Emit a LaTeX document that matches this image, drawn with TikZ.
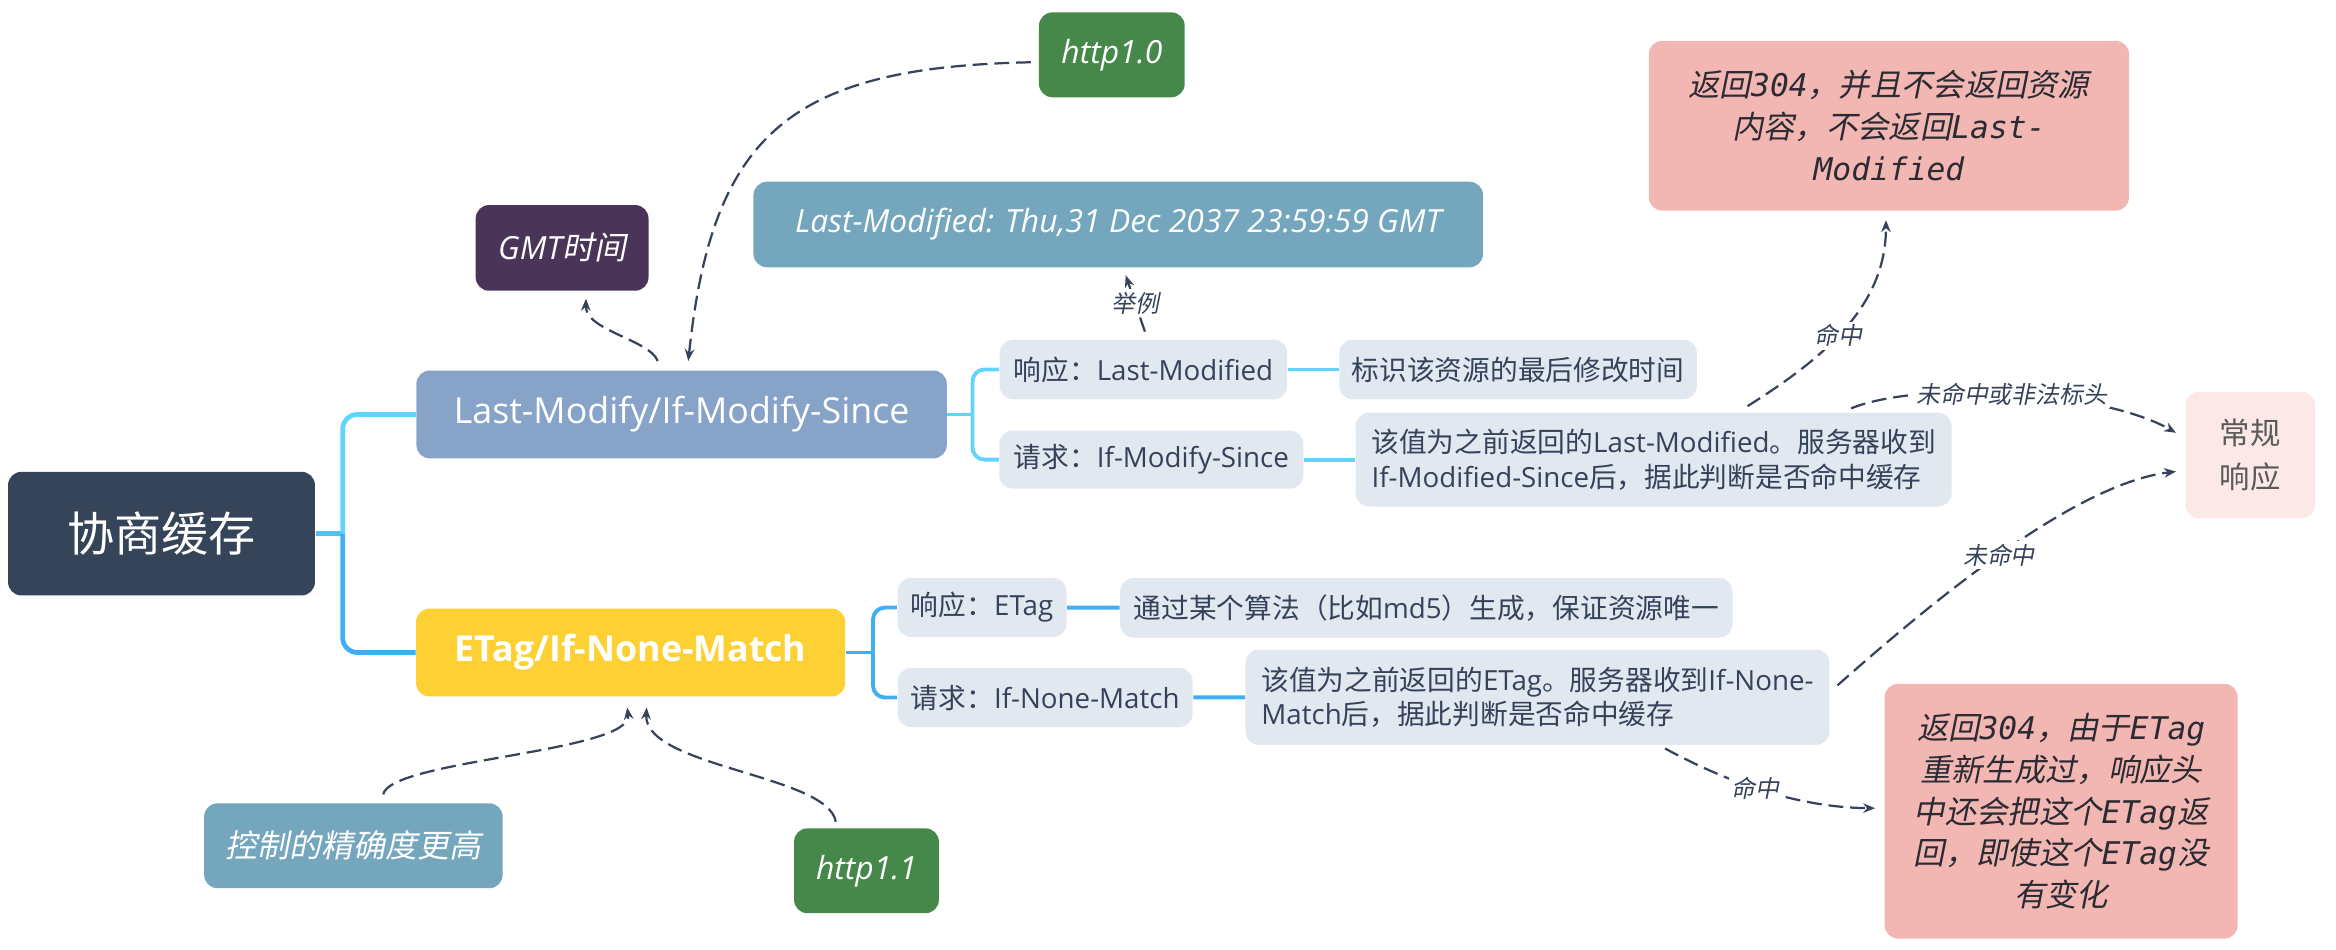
\documentclass[tikz,border=0pt]{standalone}
\usepackage{fontspec}
\usetikzlibrary{arrows.meta}
\setmainfont{Open Sans}
\newfontfamily\cjk{Noto Sans CJK SC}
\newfontfamily\cjki{Noto Sans CJK SC}[FakeSlant=0.2]
\newfontfamily\monofam{DejaVu Sans Mono}
\newcommand\zh[1]{{\cjk #1}}
\newcommand\zhi[1]{{\cjki #1}}
\newcommand\monoit[1]{{\monofam\itshape #1}}
\definecolor{cRoot}{HTML}{364459}
\definecolor{cLM}{HTML}{87A3C8}
\definecolor{cET}{HTML}{FDD133}
\definecolor{cL}{HTML}{E2E8F0}
\definecolor{cT}{HTML}{35425A}
\definecolor{cU}{HTML}{62D4FB}
\definecolor{cB}{HTML}{40ADF5}
\definecolor{cM}{HTML}{50C0F8}
\definecolor{cGMT}{HTML}{4A3558}
\definecolor{cGr}{HTML}{46884A}
\definecolor{cEx}{HTML}{74A6BD}
\definecolor{cP}{HTML}{F3B7B3}
\definecolor{cPT}{HTML}{2B2B33}
\definecolor{cN}{HTML}{FDE8E8}
\definecolor{cNT}{HTML}{5A5A5A}
\definecolor{cD}{HTML}{37435A}
\begin{document}
\begin{tikzpicture}[x=0.5pt,y=-0.5pt,
  box/.style={rounded corners=4.5pt, inner sep=0pt, align=center},
  sz/.style 2 args={minimum width=#1*0.5pt, minimum height=#2*0.5pt},
  lbox/.style={box, fill=cL, text=cT, font=\fontsize{9.3}{11.75}\selectfont},
  fbox/.style={box, text=white, font=\fontsize{10.7}{12.5}\selectfont\itshape},
  pbox/.style={box, fill=cP, text=cPT, font=\fontsize{10.5}{14}\selectfont},
  rootcon/.style={line width=1.6pt},
  childcon/.style={line width=1.3pt, rounded corners=4pt},
  dl/.style={draw=cD, line width=0.75pt, dash pattern=on 5pt off 2.3pt,
    -{Stealth[length=4pt,width=3.2pt]}},
  lbl/.style={font=\fontsize{8}{9}\cjki, text=cD, fill=white, inner sep=1pt}]
\useasboundingbox (0,0) rectangle (1568,637.67);

% main nodes
\node[box, fill=cRoot, sz={206}{83}, text=white, font=\fontsize{15.8}{18}\cjk] (root) at (108.4,358.2) {协商缓存};
\node[box, fill=cLM, sz={356}{59}, text=white, font=\fontsize{12}{14}\selectfont] (lm) at (457.5,278.2) {Last-Modify/If-Modify-Since};
\node[box, fill=cET, sz={288}{59}, text=white, font=\fontsize{12}{14}\selectfont\bfseries] (et) at (423.3,438) {ETag/If-None-Match};

% LM children
\node[lbox, sz={193}{40}] (r1) at (767.5,248) {\zh{响应：}Last-Modified};
\node[lbox, sz={240}{40}] (i1) at (1019,248) {\zh{标识该资源的最后修改时间}};
\node[lbox, sz={204}{39}] (q1) at (772.8,308.5) {\zh{请求：}If-Modify-Since};
\node[lbox, sz={400}{63}, align=left] (b1) at (1110,308.5) {\zh{该值为之前返回的}Last-Modified\zh{。服务器收到}\\If-Modified-Since\zh{后，据此判断是否命中缓存}};

% ETag children
\node[lbox, sz={113.5}{39.6}] (r2) at (659.2,407.8) {\zh{响应：}ETag};
\node[lbox, sz={411}{40}] (a2) at (957.4,408) {\zh{通过某个算法（比如}md5\zh{）生成，保证资源唯一}};
\node[lbox, sz={198}{39.6}] (q2) at (701.6,468.2) {\zh{请求：}If-None-Match};
\node[lbox, sz={392}{64}, align=left, font=\fontsize{9.3}{11.2}\selectfont] (b2) at (1032,468) {\zh{该值为之前返回的}ETag\zh{。服务器收到}If-None-\\Match\zh{后，据此判断是否命中缓存}};

% floating nodes
\node[fbox, fill=cGMT, sz={116}{57.5}] (gmt) at (377.3,166.4) {GMT\zhi{时间}};
\node[fbox, fill=cGr, sz={97.8}{57}] (h10) at (746.3,36.8) {http1.0};
\node[fbox, fill=cEx, sz={489.7}{57.4}] (ex) at (750.6,150.7) {Last-Modified: Thu,31 Dec 2037 23:59:59 GMT};
\node[fbox, fill=cEx, sz={200.4}{57}] (ctrl) at (237.2,567.7) {\zhi{控制的精确度更高}};
\node[fbox, fill=cGr, sz={97.2}{57}] (h11) at (581.6,584.5) {http1.1};

% result nodes
\node[pbox, sz={322.3}{114}] (p1) at (1267.9,84.4) {\zhi{返回}\monoit{304}\zhi{，并且不会返回资源}\\\zhi{内容，不会返回}\monoit{Last-}\\\monoit{Modified}};
\node[pbox, sz={237}{171}] (p2) at (1383.5,544.5) {\zhi{返回}\monoit{304}\zhi{，由于}\monoit{ETag}\\\zhi{重新生成过，响应头}\\\zhi{中还会把这个}\monoit{ETag}\zhi{返}\\\zhi{回，即使这个}\monoit{ETag}\zhi{没}\\\zhi{有变化}};
\node[box, fill=cN, sz={87}{85}, text=cNT, font=\fontsize{10.2}{14.7}\cjk] (norm) at (1510.5,305.5) {常规\\响应};

% solid connectors
\coordinate (jr) at (230,358.2);
\coordinate (jl) at (652.8,278.2);
\coordinate (je) at (586,438);
\draw[rootcon, cM] (root.east) -- (jr);
\draw[rootcon, cU, rounded corners=5pt] (jr) |- (lm.west);
\draw[rootcon, cB, rounded corners=5pt] (jr) |- (et.west);
\draw[childcon, cU] (lm.east) -- (jl);
\draw[childcon, cU] (jl) |- (r1.west);
\draw[childcon, cU] (jl) |- (q1.west);
\draw[childcon, cU] (r1) -- (i1);
\draw[childcon, cU] (q1) -- (b1);
\draw[childcon, cB] (et.east) -- (je);
\draw[childcon, cB] (je) |- (r2.west);
\draw[childcon, cB] (je) |- (q2.west);
\draw[childcon, cB] (r2) -- (a2);
\draw[childcon, cB] (q2) -- (b2);

% dashed connectors
\draw[dl] ([shift={(-16,-6)}]lm.north) .. controls (436,228) and (393,222) .. ([shift={(16,5)}]gmt.south);
\draw[dl] ([shift={(-5,5)}]h10.west) .. controls (530,45) and (478,90) .. ([shift={(4.5,-6)}]lm.north);
\draw[dl] ([shift={(1,-5)}]r1.north) -- node[lbl]{举例} ([shift={(5,5)}]ex.south);
\draw[dl] ([shift={(63,-4)}]b1.north) .. controls (1225,240) and (1266,205) .. ([shift={(-2,6)}]p1.south) node[lbl,pos=0.45]{命中};
\draw[dl] ([shift={(132.5,-2.5)}]b1.north) .. controls (1290,255) and (1410,262) .. ([shift={(-6,-15)}]norm.west) node[lbl,pos=0.5]{未命中或非法标头};
\draw[dl] ([shift={(5,-8)}]b2.east) .. controls (1290,410) and (1390,325) .. ([shift={(-6,11)}]norm.west) node[lbl,pos=0.5]{未命中};
\draw[dl] ([shift={(85.6,2)}]b2.south) .. controls (1150,520) and (1200,542) .. ([shift={(-6,-2)}]p2.west) node[lbl,pos=0.5]{命中};
\draw[dl] ([shift={(20,-5.6)}]ctrl.north) .. controls (262,510) and (425,505) .. ([shift={(-2.3,7)}]et.south);
\draw[dl] ([shift={(-20.6,-4)}]h11.north) .. controls (556,520) and (432,515) .. ([shift={(10.7,7)}]et.south);
\end{tikzpicture}
\end{document}
